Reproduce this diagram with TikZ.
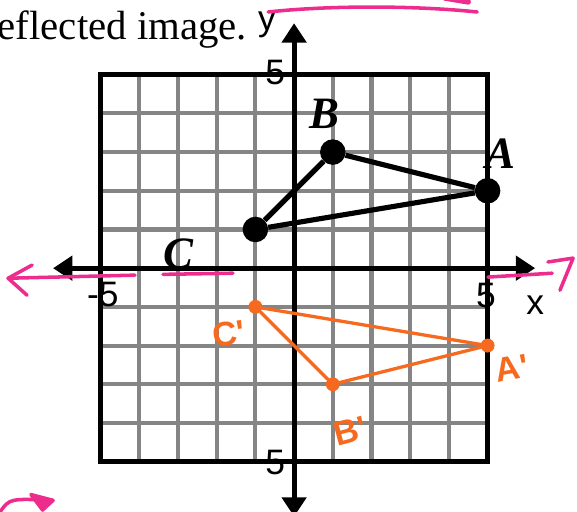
\documentclass[tikz,border=0pt]{standalone}
\usepackage{fontspec}
\setmainfont{Liberation Serif}
\setsansfont{Liberation Sans}
\usepackage{tikz}
\usetikzlibrary{arrows.meta}
\definecolor{gridline}{HTML}{858585}
\definecolor{penPink}{HTML}{EC2D8E}
\definecolor{penOrange}{HTML}{F56A1E}

\begin{document}
\begin{tikzpicture}[x=1cm,y=1cm,
    axisline/.style={line width=3.6pt,{Triangle[length=0.5cm,width=0.62cm]}-{Triangle[length=0.5cm,width=0.62cm]}},
    dot/.style={circle,fill=black,minimum size=0.66cm,inner sep=0pt},
    imgdot/.style={circle,fill=penOrange,minimum size=0.36cm,inner sep=0pt},
    ptname/.style={font=\fontsize{33}{33}\selectfont\bfseries\itshape},
    ticknum/.style={font=\fontsize{26}{26}\selectfont\sffamily,inner sep=1pt},
    handname/.style={font=\fontsize{25}{25}\selectfont\sffamily\bfseries,text=penOrange},
    scribble/.style={penPink,line width=2.6pt,line cap=round,line join=round}]
  \useasboundingbox (-7.6,-6.3) rectangle (7.31,6.93);
  \foreach \k in {-4,...,4}{
    \draw[gridline,line width=3pt] (\k,-5) -- (\k,5);
    \draw[gridline,line width=3pt] (-5,\k) -- (5,\k);
  }
  \draw[line width=3.6pt] (-5,-5) rectangle (5,5);
  \coordinate (xneg) at (-6.23,0);
  \coordinate (xpos) at (6.23,0);
  \coordinate (yneg) at (0,-6.42);
  \coordinate (ypos) at (0,6.33);
  \draw[axisline] (xneg) -- (xpos);
  \draw[axisline] (yneg) -- (ypos);
  \node[ticknum] (ytop) at (-0.49,5.06) {5};
  \node[ticknum] (ybot) at (-0.49,-5.01) {5};
  \node[ticknum] (xleft) at (-4.94,-0.67) {-5};
  \node[ticknum] (xright) at (4.96,-0.70) {5};
  \node[ticknum] (xname) at (6.23,-0.96) {x};
  \node[ticknum] (yname) at (-0.70,6.30) {y};
  \node[anchor=base west,font=\fontsize{30}{30}\selectfont] (heading) at (-7.78,5.92) {eflected image.};
  \node[dot] (A) at (5,2) {};
  \node[dot] (B) at (1,3) {};
  \node[dot] (C) at (-1,1) {};
  \draw[line width=3.8pt] (A) -- (B) -- (C) -- (A);
  \node[ptname] (labA) at (5.32,2.95) {A};
  \node[ptname] (labB) at (0.78,4.0) {B};
  \node[ptname] (labC) at (-3.0,0.36) {C};
  \node[imgdot] (Ai) at (5,-2) {};
  \node[imgdot] (Bi) at (1,-3) {};
  \node[imgdot] (Ci) at (-1,-1) {};
  \draw[penOrange,line width=2.4pt,line cap=round] (Ai) -- (Bi) -- (Ci) -- (Ai);
  \node[handname,rotate=10] (labAi) at (5.63,-2.58) {A\textquotesingle};
  \node[handname,rotate=15] (labBi) at (1.45,-4.21) {B\textquotesingle};
  \node[handname,rotate=8] (labCi) at (-1.68,-1.70) {C\textquotesingle};
  \draw[scribble] (-0.67,6.62) .. controls (1,6.8) and (3.2,6.78) .. (4.73,6.62);
  \draw[scribble,line width=4pt] (3.9,6.98) -- (4.5,6.88);
  \draw[scribble] (-6.77,0.08) -- (-7.39,-0.26) -- (-6.90,-0.70);
  \draw[scribble] (-7.39,-0.26) -- (-4.11,-0.18);
  \draw[scribble] (-3.39,-0.16) -- (-1.58,-0.13);
  \draw[scribble] (5.01,-0.23) -- (6.67,-0.13);
  \draw[scribble] (6.56,0.16) -- (7.21,0.26) -- (6.87,-0.57);
  \draw[scribble] (-7.6,-6.3) .. controls (-7.35,-5.95) .. (-6.23,-6.0);
  \draw[scribble,fill=penPink] (-6.8,-5.85) -- (-6.23,-6.0) -- (-6.5,-6.25) -- cycle;
\end{tikzpicture}
\end{document}
